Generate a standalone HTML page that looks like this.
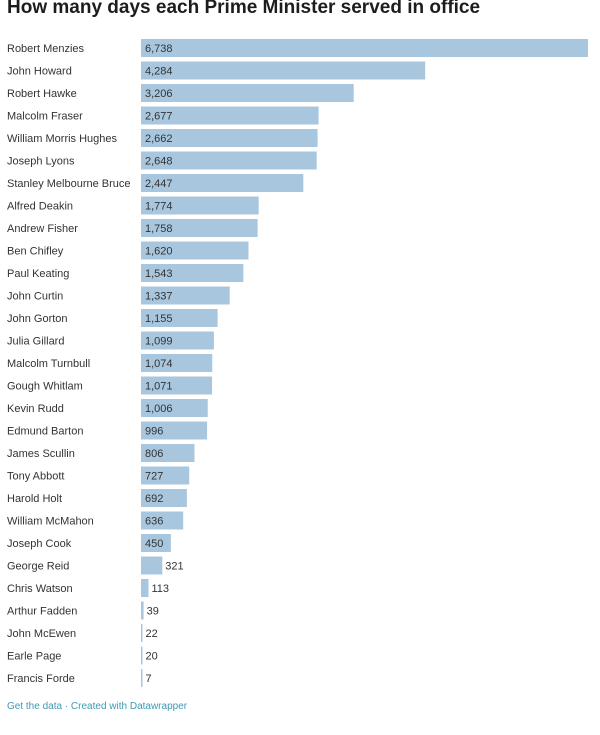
<!DOCTYPE html>
<html><head><meta charset="utf-8">
<style>
body{margin:0;background:#fff;width:600px;height:735px;overflow:hidden;font-family:"Liberation Sans",sans-serif;}
#title{position:absolute;left:7px;top:-3px;font-size:19px;font-weight:bold;color:#1d1d1d;margin:0;white-space:nowrap;}
#footer{position:absolute;left:7px;top:701px;font-size:10px;color:#3d9ab3;}
svg{position:absolute;left:0;top:0;}
</style></head><body>
<h1 id="title">How many days each Prime Minister served in office</h1>
<svg id="chart" width="600" height="700"></svg>
<div id="footer">Get the data · Created with Datawrapper</div>
<script>
const names=["Robert Menzies","John Howard","Robert Hawke","Malcolm Fraser","William Morris Hughes","Joseph Lyons","Stanley Melbourne Bruce","Alfred Deakin","Andrew Fisher","Ben Chifley","Paul Keating","John Curtin","John Gorton","Julia Gillard","Malcolm Turnbull","Gough Whitlam","Kevin Rudd","Edmund Barton","James Scullin","Tony Abbott","Harold Holt","William McMahon","Joseph Cook","George Reid","Chris Watson","Arthur Fadden","John McEwen","Earle Page","Francis Forde"];
const days=[6738,4284,3206,2677,2662,2648,2447,1774,1758,1620,1543,1337,1155,1099,1074,1071,1006,996,806,727,692,636,450,321,113,39,22,20,7];
const svg=document.getElementById('chart');
const NS="http://www.w3.org/2000/svg";
const x0=141,x1=588,maxV=6738;
const xs=v=>v/maxV*(x1-x0);
const ys=i=>48+i*22.5;
names.forEach((n,i)=>{
  const y=ys(i);
  const t=document.createElementNS(NS,'text');
  
  
  t.setAttribute('x',7);t.setAttribute('y',y+4);
  t.setAttribute('font-size','11');t.setAttribute('fill','#333');
  t.textContent=n;svg.appendChild(t);
  const w=Math.max(xs(days[i]),1.5);
  const r=document.createElementNS(NS,'rect');
  
  
  r.setAttribute('x',x0);r.setAttribute('y',y-9);r.setAttribute('width',w);r.setAttribute('height',18);
  r.setAttribute('fill','#a8c7de');svg.appendChild(r);
  const lbl=days[i].toLocaleString('en-US');
  const v=document.createElementNS(NS,'text');
  
  
  const inside=w>28;
  v.setAttribute('x',inside?x0+4:x0+w+3);v.setAttribute('y',y+4);
  v.setAttribute('font-size','11');v.setAttribute('fill','#333');
  v.textContent=lbl;svg.appendChild(v);
});
</script>
</body></html>
